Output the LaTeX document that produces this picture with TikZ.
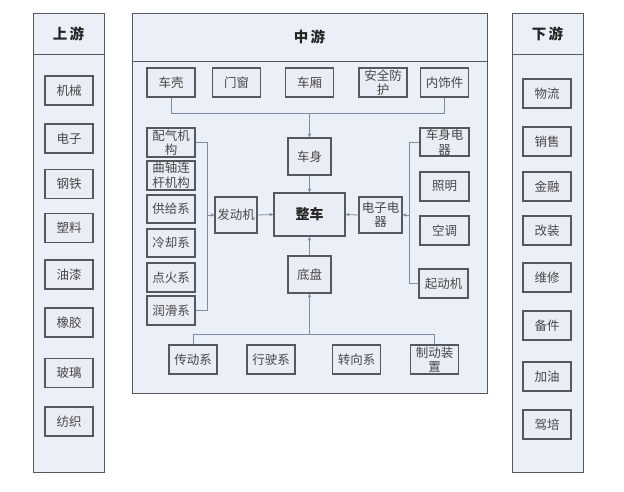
\documentclass[tikz,border=0pt]{standalone}
\usepackage{fontspec}
\setmainfont{Noto Sans CJK SC}
\usetikzlibrary{arrows.meta}
\definecolor{panelfill}{HTML}{EBEFF7}
\definecolor{boxfill}{HTML}{E9EDF5}
\definecolor{boxline}{HTML}{54585F}
\definecolor{conn}{HTML}{7E8CA4}
\tikzset{
  panel/.style={draw=boxline, fill=panelfill, line width=1pt},
  box/.style={draw=boxline, fill=boxfill, line width=1.1pt, inner sep=0pt, align=center,
    font=\fontsize{12.5}{14.5}\selectfont, text=black!72},
  hdr/.style={font=\fontsize{14.5}{15}\selectfont\bfseries, text=black!85},
  wire/.style={draw=conn, line width=0.8pt},
  arr/.style={wire, -{Stealth[length=4pt,width=3.5pt]}},
}
\begin{document}
\begin{tikzpicture}[x=1pt,y=-1pt]
\useasboundingbox (0,0) rectangle (624,491);
% panels
\draw[panel] (33,13) rectangle (104,472);
\draw[boxline, line width=1pt] (33,54) -- (104,54);
\draw[panel] (132,13) rectangle (487,393);
\draw[boxline, line width=1pt] (132,61) -- (487,61);
\draw[panel] (512,13) rectangle (583,472);
\draw[boxline, line width=1pt] (512,54) -- (583,54);
\node[hdr] (hup) at (68.5,33.5) {上\,游};
\node[hdr] (hmid) at (309.5,37) {中\,游};
\node[hdr] (hdown) at (547.5,33.5) {下\,游};
% upstream
\foreach \n/\t/\y in {u1/机械/90.5, u2/电子/138.5, u3/钢铁/184, u4/塑料/228, u5/油漆/274.5, u6/橡胶/322.5, u7/玻璃/373, u8/纺织/421.5}
  \node[box, minimum width=48pt, minimum height=29pt] (\n) at (69,\y) {\t};
% downstream
\foreach \n/\t/\y in {d1/物流/93.5, d2/销售/141.5, d3/金融/186.5, d4/改装/230.5, d5/维修/277.5, d6/备件/325.5, d7/加油/376.5, d8/驾培/424.5}
  \node[box, minimum width=48pt, minimum height=29pt] (\n) at (547,\y) {\t};
% top row
\node[box, minimum width=48pt, minimum height=29pt] (ck) at (171,82.5) {车壳};
\node[box, minimum width=48pt, minimum height=29pt] (mc) at (236.5,82.5) {门窗};
\node[box, minimum width=48pt, minimum height=29pt] (cx) at (309.5,82.5) {车厢};
\node[box, minimum width=48pt, minimum height=29pt] (aq) at (383,82.5) {安全防\\护};
\node[box, minimum width=48pt, minimum height=29pt] (ns) at (444.5,82.5) {内饰件};
% center
\node[box, minimum width=43pt, minimum height=37pt] (cs) at (309.5,156.5) {车身};
\node[box, minimum width=71pt, minimum height=43pt, font=\fontsize{14}{15}\selectfont\bfseries, text=black!85] (zc) at (309.5,214.5) {整车};
\node[box, minimum width=42pt, minimum height=36pt] (fdj) at (236,215) {发动机};
\node[box, minimum width=43pt, minimum height=36pt] (dz) at (380.5,215) {电子电\\器};
\node[box, minimum width=43pt, minimum height=37pt] (dp) at (309.5,274.5) {底盘};
% engine parts
\node[box, minimum width=48pt, minimum height=29pt] (pq) at (171,142.5) {配气机\\构};
\node[box, minimum width=48pt, minimum height=29pt] (qz) at (171,175.5) {曲轴连\\杆机构};
\node[box, minimum width=48pt, minimum height=28pt] (gj) at (171,209) {供给系};
\node[box, minimum width=48pt, minimum height=28pt] (lq) at (171,243) {冷却系};
\node[box, minimum width=48pt, minimum height=29pt] (dh) at (171,277.5) {点火系};
\node[box, minimum width=48pt, minimum height=29pt] (rh) at (171,310.5) {润滑系};
% electrical parts
\node[box, minimum width=49pt, minimum height=28pt] (csdq) at (444.5,142) {车身电\\器};
\node[box, minimum width=49pt, minimum height=29pt] (zm) at (444.5,186.5) {照明};
\node[box, minimum width=49pt, minimum height=29pt] (kt) at (444.5,230.5) {空调};
\node[box, minimum width=49pt, minimum height=29pt] (qdj) at (443.5,283.5) {起动机};
% chassis parts
\node[box, minimum width=48pt, minimum height=29pt] (cd) at (193,359.5) {传动系};
\node[box, minimum width=48pt, minimum height=29pt] (xs) at (271,359.5) {行驶系};
\node[box, minimum width=48pt, minimum height=29pt] (zx) at (356.5,359.5) {转向系};
\node[box, minimum width=48pt, minimum height=29pt] (zd) at (434.5,359.5) {制动装\\置};
% buses
\coordinate (tbus) at (0,113);
\coordinate (lbus) at (207,0);
\coordinate (rbus) at (409,0);
\coordinate (bbus) at (0,334);
\draw[wire] (ck.south) -- (ck.south |- tbus) -| (ns.south);
\draw[arr] (cs.north |- tbus) -- (cs.north);
\draw[arr] (cs.south) -- (zc.north);
\draw[wire] (pq.east) -- (pq.east -| lbus) -- (rh.east -| lbus) -- (rh.east);
\draw[arr] (fdj.west -| lbus) -- (fdj.west);
\draw[arr] (fdj.east) -- (zc.west);
\draw[wire] (csdq.west) -- (csdq.west -| rbus) -- (qdj.west -| rbus) -- (qdj.west);
\draw[arr] (dz.east -| rbus) -- (dz.east);
\draw[arr] (dz.west) -- (zc.east);
\draw[wire] (cd.north) -- (cd.north |- bbus) -| (zd.north);
\draw[arr] (dp.south |- bbus) -- (dp.south);
\draw[arr] (dp.north) -- (zc.south);
\end{tikzpicture}
\end{document}
